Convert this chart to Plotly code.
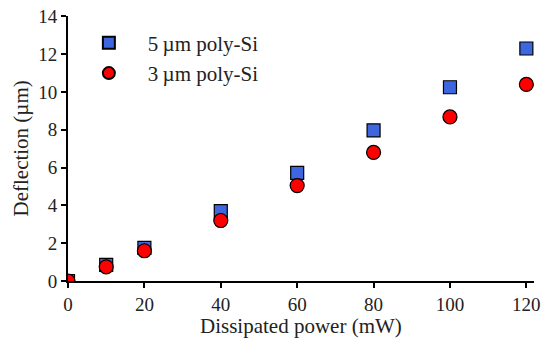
import plotly.graph_objects as go

power = [0, 10, 20, 40, 60, 80, 100, 120]
defl_5um = [0.0, 0.85, 1.75, 3.7, 5.72, 7.97, 10.25, 12.3]
defl_3um = [0.0, 0.75, 1.6, 3.2, 5.05, 6.8, 8.68, 10.4]
series_names = ["5\u2009\u00b5m poly-Si", "3\u2009\u00b5m poly-Si"]
x_ticks = [0, 20, 40, 60, 80, 100, 120]
y_ticks = [0, 2, 4, 6, 8, 10, 12, 14]

FONT = "'Palatino Linotype', 'Book Antiqua', Palatino, 'Liberation Serif', 'DejaVu Serif', serif"

fig = go.Figure()
fig.add_trace(go.Scatter(
    x=power, y=defl_5um, mode="markers", name=series_names[0],
    marker=dict(symbol="square", size=13, color="#3E66DE",
                line=dict(color="black", width=1.2)),
))
fig.add_trace(go.Scatter(
    x=power, y=defl_3um, mode="markers", name=series_names[1],
    marker=dict(symbol="circle", size=14, color="#FF0000",
                line=dict(color="black", width=1.2)),
))

fig.update_layout(
    width=542, height=338,
    margin=dict(l=60, r=16, t=8, b=65, autoexpand=False),
    paper_bgcolor="white", plot_bgcolor="white",
    font=dict(family=FONT, size=20, color="#222"),
    showlegend=True,
    legend=dict(x=0.004, y=0.975, xanchor="left", yanchor="top",
                bgcolor="rgba(0,0,0,0)", font=dict(size=21, family=FONT),
                itemsizing="constant", itemwidth=68, tracegroupgap=2),
    xaxis=dict(
        range=[0, 122], tickvals=x_ticks, showgrid=False, zeroline=False,
        showline=True, linecolor="black", linewidth=2, automargin=False,
        ticks="outside", ticklen=5, tickwidth=1.5, tickcolor="black",
        tickfont=dict(size=19), ticklabeloverflow="allow",
    ),
    yaxis=dict(
        range=[0, 14.02], tickvals=y_ticks, showgrid=False, zeroline=False,
        showline=True, linecolor="black", linewidth=2, automargin=False,
        ticks="outside", ticklen=5, tickwidth=1.5, tickcolor="black",
        tickfont=dict(size=19), ticklabeloverflow="allow",
    ),
    annotations=[
        dict(text="Dissipated power (mW)", xref="paper", yref="paper",
             x=0.5, y=-0.17, xanchor="center", yanchor="middle",
             showarrow=False, font=dict(size=21, family=FONT, color="#222")),
        dict(text="Deflection (\u00b5m)", xref="paper", yref="paper",
             x=-0.103, y=0.5, xanchor="center", yanchor="middle", textangle=-90,
             showarrow=False, font=dict(size=21, family=FONT, color="#222")),
    ],
)

fig.write_html("out.html")
